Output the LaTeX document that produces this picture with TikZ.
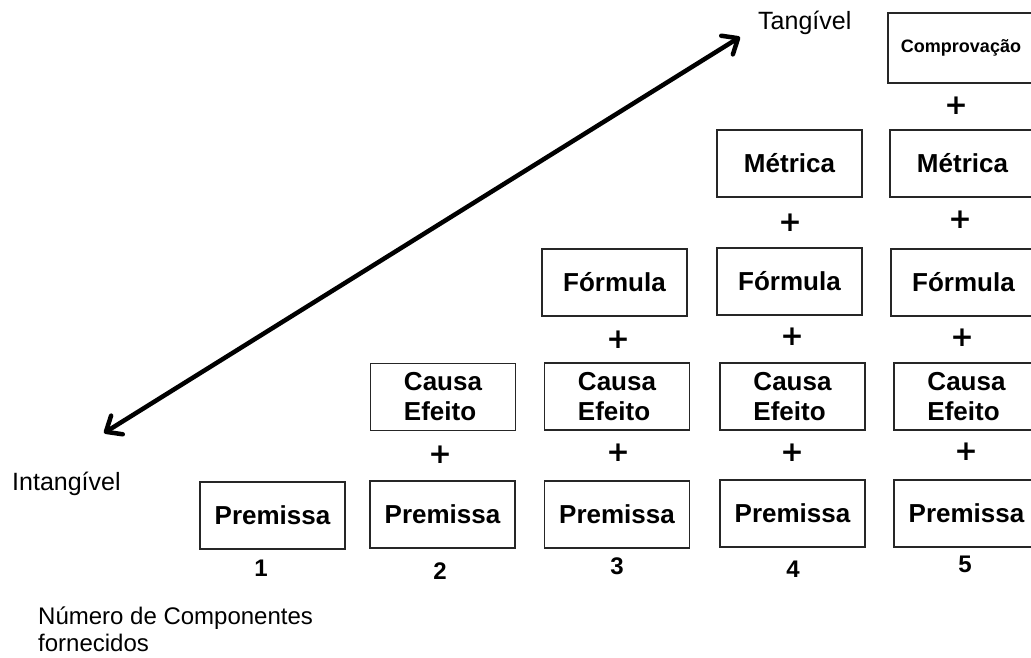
\documentclass[tikz,border=0pt]{standalone}
\usepackage{fontspec}
\setmainfont{Liberation Sans}
\newfontfamily\plusfont{DejaVu Sans}
\usetikzlibrary{arrows.meta}
\begin{document}
\begin{tikzpicture}[x=1pt,y=-1pt,
  comp/.style={draw=black!85, line width=1.3pt, minimum width=145pt,
    minimum height=67pt, inner sep=0pt, align=left,
    font=\fontsize{26}{30}\selectfont\bfseries},
  plus/.style={font=\plusfont\fontsize{28}{28}\selectfont\bfseries, inner sep=0pt},
  num/.style={font=\fontsize{24}{24}\selectfont\bfseries, inner sep=0pt},
  lbl/.style={font=\fontsize{25}{27}\selectfont, inner sep=0pt, anchor=base west, align=left},
  gauge/.style={line width=4.5pt, line cap=round,
    >={Straight Barb[length=13pt,width=22pt,line join=round,line cap=round]}, <->}
]
\useasboundingbox (0,0) rectangle (1031,657);
\begin{scope}
\clip (0,0) rectangle (1031,657);

% column 1
\node[comp] (p1) at (272.5,515.5) {Premissa};
\node[num]  (n1) at (261,568) {1};

% column 2
\node[comp] (p2) at (442.5,514.5) {Premissa};
\node[comp] (c2) at (443,397) {Causa\\Efeito};
\node[plus] (s2a) at (440,455) {+};
\node[num]  (n2) at (440,571) {2};

% column 3
\node[comp] (p3) at (617,514.5) {Premissa};
\node[comp] (c3) at (617,396.5) {Causa\\Efeito};
\node[comp] (f3) at (614.5,282.5) {Fórmula};
\node[plus] (s3a) at (618,453) {+};
\node[plus] (s3b) at (618,340) {+};
\node[num]  (n3) at (617,566) {3};

% column 4
\node[comp] (p4) at (792.5,513.5) {Premissa};
\node[comp] (c4) at (792.5,396.5) {Causa\\Efeito};
\node[comp] (f4) at (789.5,281.5) {Fórmula};
\node[comp] (m4) at (789.5,163.5) {Métrica};
\node[plus] (s4a) at (792,453) {+};
\node[plus] (s4b) at (792,337) {+};
\node[plus] (s4c) at (790,223) {+};
\node[num]  (n4) at (793,569) {4};

% column 5 (runs past the right edge)
\node[comp] (p5) at (966.5,513.5) {Premissa};
\node[comp] (c5) at (966.5,396.5) {Causa\\Efeito};
\node[comp] (f5) at (963.5,282.5) {Fórmula};
\node[comp] (m5) at (962.5,163.5) {Métrica};
\node[comp, minimum width=146pt, minimum height=70pt,
      font=\fontsize{18}{20}\selectfont\bfseries] (v5) at (961,48) {Comprovação};
\node[plus] (s5a) at (966,452) {+};
\node[plus] (s5b) at (962,338) {+};
\node[plus] (s5c) at (960,220) {+};
\node[plus] (s5d) at (956,106) {+};
\node[num]  (n5) at (965,564) {5};

% double-headed scale from intangible to tangible
\coordinate (lo) at (104,433);
\coordinate (hi) at (740,37);
\draw[gauge] (lo) -- (hi);

\node[lbl] (tang) at (758,29) {Tangível};
\node[lbl] (intang) at (12,490) {Intangível};
\node[lbl, font=\fontsize{24}{27}\selectfont] (axis) at (38,651) {Número de Componentes\\fornecidos};
\end{scope}
\end{tikzpicture}
\end{document}
